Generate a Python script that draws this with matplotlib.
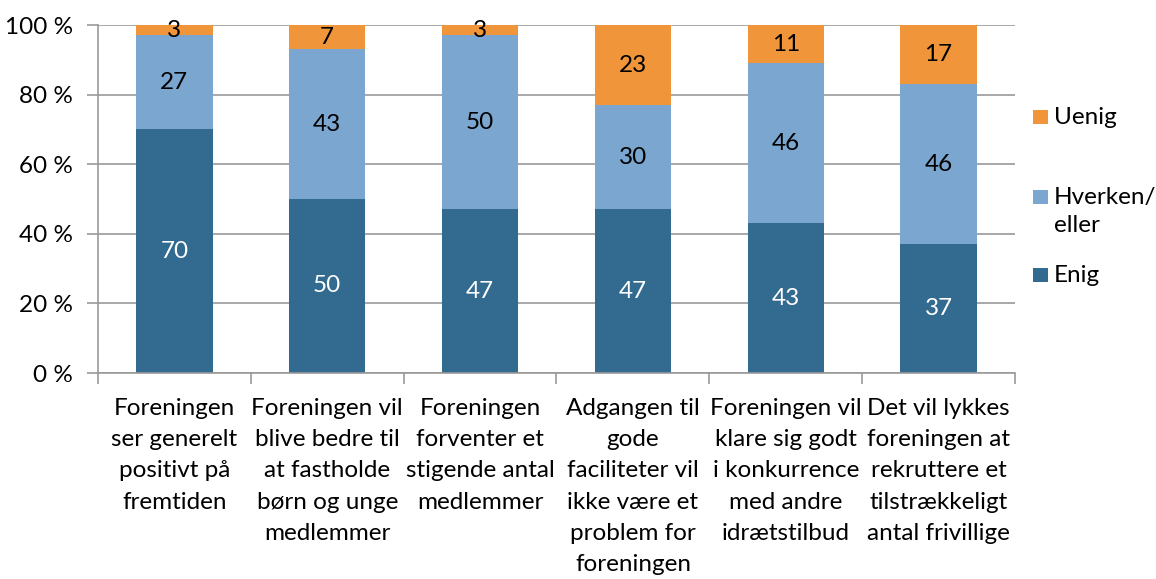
import matplotlib
matplotlib.use("Agg")
import matplotlib.pyplot as plt
from matplotlib.patches import Rectangle
from matplotlib.ticker import FixedLocator

plt.rcParams["font.family"] = ["Lato", "DejaVu Sans"]

categories = [
    "Foreningen\nser generelt\npositivt på\nfremtiden",
    "Foreningen vil\nblive bedre til\nat fastholde\nbørn og unge\nmedlemmer",
    "Foreningen\nforventer et\nstigende antal\nmedlemmer",
    "Adgangen til\ngode\nfaciliteter vil\nikke være et\nproblem for\nforeningen",
    "Foreningen vil\nklare sig godt\ni konkurrence\nmed andre\nidrætstilbud",
    "Det vil lykkes\nforeningen at\nrekruttere et\ntilstrækkeligt\nantal frivillige",
]
enig = [70, 50, 47, 47, 43, 37]
hverken = [27, 43, 50, 30, 46, 46]
uenig = [3, 7, 3, 23, 11, 17]
y_ticks = [0, 20, 40, 60, 80, 100]

C_ENIG = "#336a90"
C_HVERKEN = "#7aa6cf"
C_UENIG = "#f0953a"
GRID = "#9a9a9a"
FS = 17.5

W, H = 1156, 579
fig = plt.figure(figsize=(W / 100, H / 100), dpi=100)
ax = fig.add_axes([98 / W, 1 - 373 / H, (1015 - 98) / W, (373 - 25) / H])

x = list(range(len(categories)))
bottom2 = [a + b for a, b in zip(enig, hverken)]
b1 = ax.bar(x, enig, width=0.5, color=C_ENIG, zorder=2)
b2 = ax.bar(x, hverken, width=0.5, bottom=enig, color=C_HVERKEN, zorder=2)
b3 = ax.bar(x, uenig, width=0.5, bottom=bottom2, color=C_UENIG, zorder=2)

ax.bar_label(b1, labels=[str(v) for v in enig], label_type="center", color="white", fontsize=FS)
ax.bar_label(b2, labels=[str(v) for v in hverken], label_type="center", color="black", fontsize=FS)
ax.bar_label(b3, labels=[str(v) for v in uenig], label_type="center", color="black", fontsize=FS)

ax.set_xlim(-0.5, len(categories) - 0.5)
ax.set_ylim(0, 100)
ax.set_yticks(y_ticks)
ax.set_yticklabels([f"{v} %" for v in y_ticks], fontsize=FS)
ax.yaxis.grid(True, color=GRID, linewidth=1.2, zorder=0)
ax.set_axisbelow(True)

ax.set_xticks(x)
ax.set_xticklabels(categories, fontsize=FS, linespacing=1.6, va="top")
ax.tick_params(axis="x", which="major", length=0, pad=18)
ax.xaxis.set_minor_locator(FixedLocator([i - 0.5 for i in range(len(categories) + 1)]))
ax.tick_params(axis="x", which="minor", length=8, color=GRID, width=1.2)
ax.tick_params(axis="y", length=8, color=GRID, width=1.2, pad=10)

for s in ["top", "right"]:
    ax.spines[s].set_visible(False)
for s in ["left", "bottom"]:
    ax.spines[s].set_color(GRID)
    ax.spines[s].set_linewidth(1.2)

# legend drawn by hand to match the original's spacing
legend_items = [("Uenig", C_UENIG, 117), ("Hverken/\neller", C_HVERKEN, 197), ("Enig", C_ENIG, 275)]
for label, color, yc in legend_items:
    fig.patches.append(Rectangle((1033 / W, 1 - (yc + 7) / H), 15 / W, 14 / H,
                                 transform=fig.transFigure, facecolor=color, edgecolor="none"))
    if "\n" in label:
        fig.text(1054 / W, 1 - (yc - 10) / H, label, fontsize=FS, va="top", ha="left", linespacing=1.42)
    else:
        fig.text(1054 / W, 1 - yc / H, label, fontsize=FS, va="center", ha="left")

fig.savefig("out.png", dpi=100)
